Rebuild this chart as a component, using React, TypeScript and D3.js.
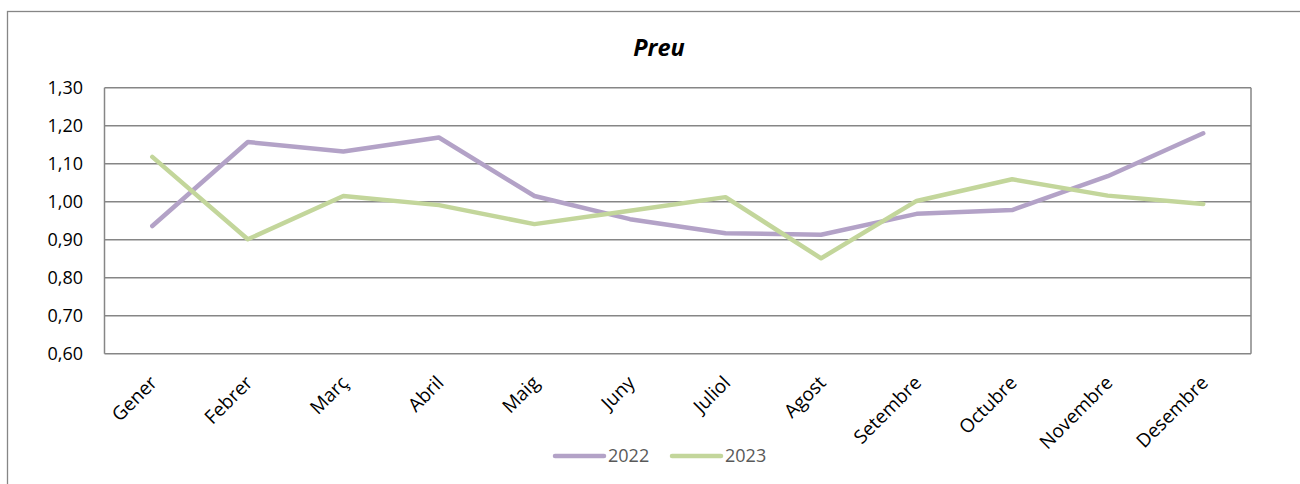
import React from "react";
import * as d3 from "d3";

const months = ["Gener", "Febrer", "Març", "Abril", "Maig", "Juny", "Juliol", "Agost", "Setembre", "Octubre", "Novembre", "Desembre"];
const values2022 = [0.936, 1.157, 1.132, 1.169, 1.015, 0.954, 0.917, 0.913, 0.968, 0.978, 1.067, 1.18];
const values2023 = [1.118, 0.901, 1.015, 0.991, 0.941, 0.976, 1.012, 0.851, 1.002, 1.059, 1.016, 0.994];
const yTicks = [0.6, 0.7, 0.8, 0.9, 1.0, 1.1, 1.2, 1.3];
const seriesNames = ["2022", "2023"];
const colors = ["#B3A2C7", "#C3D69B"];

const W = 1300, H = 484;
const plot = { left: 104.5, right: 1251, top: 87.7, bottom: 353.7 };
const font = "'Open Sans', sans-serif";

export default function App() {
  const x = d3.scaleBand<string>().domain(months).range([plot.left, plot.right]);
  const y = d3.scaleLinear().domain([0.6, 1.3]).range([plot.bottom, plot.top]);
  const line = d3.line<number>()
    .x((_, i) => (x(months[i]) as number) + x.bandwidth() / 2)
    .y((d) => y(d));
  const fmt = (v: number) => v.toFixed(2).replace(".", ",");
  const series = [values2022, values2023];
  const legendX = [555, 672];

  return (
    <svg width={W} height={H} style={{ position: "absolute", left: 0, top: 0 }}>
      <rect x={0} y={0} width={W} height={H} fill="#fff" />
      <rect x={7.5} y={11.5} width={W + 10} height={H + 10} fill="none" stroke="#868686" strokeWidth={1.3} />
      <text x={659} y={56} textAnchor="middle" fontFamily={font} fontSize={23.5} fontWeight="bold" fontStyle="italic" fill="#000">Preu</text>
      {yTicks.map((t) => (
        <g key={t}>
          <line x1={plot.left} x2={plot.right} y1={y(t)} y2={y(t)} stroke="#868686" strokeWidth={1.5} />
          <text x={83} y={y(t)} dy="0.35em" textAnchor="end" fontFamily={font} fontSize={18} fill="#000">{fmt(t)}</text>
        </g>
      ))}
      <line x1={plot.left} x2={plot.left} y1={plot.top} y2={plot.bottom} stroke="#868686" strokeWidth={1.5} />
      <line x1={plot.right} x2={plot.right} y1={plot.top} y2={plot.bottom} stroke="#868686" strokeWidth={1.5} />
      {months.map((m) => {
        const cx = (x(m) as number) + x.bandwidth() / 2;
        return (
          <text key={m} transform={`translate(${cx + 6},${384}) rotate(-45)`} textAnchor="end" fontFamily={font} fontSize={19} fill="#000">{m}</text>
        );
      })}
      {series.map((s, i) => (
        <path key={i} d={line(s) as string} fill="none" stroke={colors[i]} strokeWidth={4.5} strokeLinejoin="round" strokeLinecap="round" />
      ))}
      {seriesNames.map((n, i) => (
        <g key={n}>
          <line x1={legendX[i]} x2={legendX[i] + 49} y1={456} y2={456} stroke={colors[i]} strokeWidth={4.5} strokeLinecap="round" />
          <text x={legendX[i] + 53} y={456} dy="0.35em" fontFamily={font} fontSize={18} fill="#595959">{n}</text>
        </g>
      ))}
    </svg>
  );
}
